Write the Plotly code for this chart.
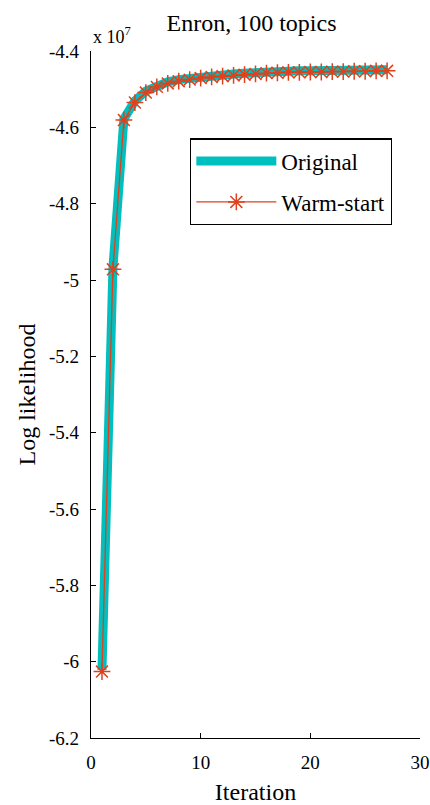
import plotly.graph_objects as go

# ---- data (log likelihood in units of 1e7) ----
iterations = list(range(1, 28))
original = [-6.022, -4.968, -4.578, -4.531, -4.505, -4.490, -4.481, -4.475, -4.471,
            -4.467, -4.464, -4.462, -4.460, -4.458, -4.456, -4.455, -4.454, -4.453,
            -4.452, -4.452, -4.451, -4.451, -4.450, -4.450, -4.449, -4.449, -4.449]
warm_start = [-6.026, -4.972, -4.581, -4.535, -4.509, -4.494, -4.485, -4.479, -4.475,
              -4.471, -4.468, -4.466, -4.464, -4.462, -4.460, -4.458, -4.457, -4.456,
              -4.456, -4.455, -4.455, -4.454, -4.454, -4.453, -4.453, -4.452, -4.452]
series_names = ["Original", "Warm-start"]
ytick_vals = [-4.4, -4.6, -4.8, -5.0, -5.2, -5.4, -5.6, -5.8, -6.0, -6.2]
ytick_text = ["-4.4", "-4.6", "-4.8", "-5", "-5.2", "-5.4", "-5.6", "-5.8", "-6", "-6.2"]
xtick_vals = [0, 10, 20, 30]
xtick_text = ["0", "10", "20", "30"]

SERIF = "Liberation Serif, Times New Roman, serif"
CYAN = "#00BFBF"
RED = "#E0401C"

fig = go.Figure()
fig.add_trace(go.Scatter(
    x=iterations, y=original, name=series_names[0], mode="lines",
    legendgroup="a",
    line=dict(color=CYAN, width=9),
))
fig.add_trace(go.Scatter(
    x=iterations, y=warm_start, name=series_names[1], mode="lines+markers",
    legendgroup="b",
    line=dict(color=RED, width=1.3),
    marker=dict(symbol="asterisk-open", size=14, color=RED,
                line=dict(color=RED, width=1.5)),
))

fig.update_layout(
    width=430, height=805,
    margin=dict(l=91, r=10, t=51, b=67, autoexpand=False),
    paper_bgcolor="white", plot_bgcolor="white",
    font=dict(family=SERIF, size=19, color="black"),
    title=dict(text="Enron, 100 topics", font=dict(family=SERIF, size=24, color="black"),
               x=0.488, xref="paper", xanchor="center",
               y=1 - 23 / 805, yref="container", yanchor="middle"),
    showlegend=True,
    legend=dict(x=0.301, y=0.873, xanchor="left", yanchor="top",
                bordercolor="black", borderwidth=1.3, bgcolor="white",
                font=dict(family=SERIF, size=23, color="black"),
                itemwidth=80, tracegroupgap=8),
    xaxis=dict(range=[0, 30], tickvals=xtick_vals, ticktext=xtick_text,
               automargin=False,
               showline=True, linecolor="black", linewidth=1.3, mirror=False,
               ticks="inside", ticklen=5, tickcolor="black", tickwidth=1.3,
               showgrid=False, zeroline=False, ticklabelstandoff=7,
               tickfont=dict(family=SERIF, size=19),
               title=dict(text="Iteration", font=dict(family=SERIF, size=24), standoff=12)),
    yaxis=dict(range=[-6.2, -4.4], tickvals=ytick_vals, ticktext=ytick_text,
               automargin=False,
               showline=True, linecolor="black", linewidth=1.3, mirror=False,
               ticks="inside", ticklen=5, tickcolor="black", tickwidth=1.3,
               showgrid=False, zeroline=False, ticklabelstandoff=7,
               tickfont=dict(family=SERIF, size=19),
               title=dict(text="Log likelihood", font=dict(family=SERIF, size=24), standoff=6)),
    annotations=[dict(text="x 10<sup>7</sup>", xref="paper", yref="paper",
                      x=0.0, y=1.0, xanchor="left", yanchor="bottom", yshift=2,
                      showarrow=False, font=dict(family=SERIF, size=18, color="black"))],
)

fig.write_html("out.html")
